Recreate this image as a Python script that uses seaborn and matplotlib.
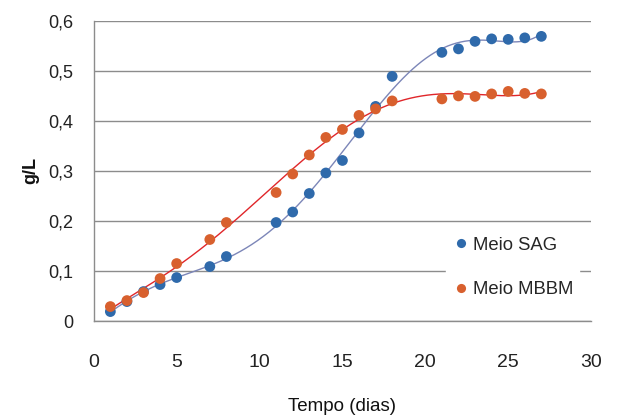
import numpy as np
import pandas as pd
import matplotlib
matplotlib.use("Agg")
import matplotlib.pyplot as plt
import seaborn as sns
from matplotlib import font_manager

dias_sag = [1, 2, 3, 4, 5, 7, 8, 11, 12, 13, 14, 15, 16, 17, 18, 21, 22, 23, 24, 25, 26, 27]
sag = [0.019, 0.039, 0.059, 0.073, 0.087, 0.109, 0.129, 0.197, 0.218, 0.255, 0.296, 0.321,
       0.376, 0.429, 0.489, 0.537, 0.544, 0.559, 0.564, 0.563, 0.566, 0.569]
dias_mbbm = [1, 2, 3, 4, 5, 7, 8, 11, 12, 13, 14, 15, 16, 17, 18, 21, 22, 23, 24, 25, 26, 27]
mbbm = [0.029, 0.041, 0.057, 0.085, 0.115, 0.163, 0.197, 0.257, 0.294, 0.332, 0.367, 0.383,
        0.411, 0.424, 0.440, 0.444, 0.450, 0.449, 0.454, 0.459, 0.455, 0.454]
series_names = ["Meio SAG", "Meio MBBM"]
x_ticks = [0, 5, 10, 15, 20, 25, 30]
y_ticks = [0, 0.1, 0.2, 0.3, 0.4, 0.5, 0.6]

sns.set_theme(style="white")
names = {f.name for f in font_manager.fontManager.ttflist}
narrow = "Liberation Sans Narrow" if "Liberation Sans Narrow" in names else "Liberation Sans"
plt.rcParams['font.family'] = [narrow, 'DejaVu Sans']

df = pd.DataFrame({
    "dia": dias_sag + dias_mbbm,
    "valor": sag + mbbm,
    "serie": [series_names[0]] * len(sag) + [series_names[1]] * len(mbbm),
})

# polynomial trend lines fitted to the data
fits = []
for name, xs, ys in [(series_names[0], dias_sag, sag), (series_names[1], dias_mbbm, mbbm)]:
    coef = np.polyfit(xs, ys, 6)
    xx = np.linspace(min(xs), max(xs), 300)
    fits.append(pd.DataFrame({"dia": xx, "valor": np.polyval(coef, xx), "serie": name}))
fit_df = pd.concat(fits)

fig = plt.figure(figsize=(6.17, 4.17), dpi=100)
ax = fig.add_axes([0.152, 0.230, 0.806, 0.720])

ax.set_axisbelow(True)
ax.grid(axis="y", color="#8c8c8c", linewidth=1.0)

sns.lineplot(data=fit_df, x="dia", y="valor", hue="serie",
             palette={series_names[0]: "#7c86b8", series_names[1]: "#e0262a"},
             linewidth=1.0, legend=False, ax=ax, zorder=2)
sns.scatterplot(data=df, x="dia", y="valor", hue="serie",
                palette={series_names[0]: "#2f6aab", series_names[1]: "#d8602e"},
                s=60, edgecolor="none", ax=ax, zorder=3)

ax.set_xlim(0, 30)
ax.set_ylim(0, 0.6)
ax.set_xticks(x_ticks)
ax.set_yticks(y_ticks)
ax.set_xticklabels([str(t) for t in x_ticks], fontsize=14)
ax.set_yticklabels([("%g" % t).replace(".", ",") for t in y_ticks], fontsize=13)
ax.tick_params(axis="both", length=0, colors="#222222")
ax.tick_params(axis="y", pad=15)
ax.tick_params(axis="x", pad=24)

for side in ["top", "right"]:
    ax.spines[side].set_visible(False)
for side in ["left", "bottom"]:
    ax.spines[side].set_color("#8c8c8c")
    ax.spines[side].set_linewidth(1.0)

ax.set_xlabel("Tempo (dias)", fontsize=13.5, labelpad=19, color="#111111")
ax.set_ylabel("g/L", fontsize=13, fontweight="bold", labelpad=6, color="#111111")

leg = ax.legend(loc="upper left", bbox_to_anchor=(0.69, 0.33), frameon=True,
                fontsize=13.3, handletextpad=0.15, labelspacing=1.5, markerscale=0.85,
                borderpad=0.3, handlelength=1.0)
leg.get_frame().set_facecolor("white")
leg.get_frame().set_edgecolor("white")
leg.get_frame().set_alpha(1.0)
leg.get_frame().set_boxstyle("square", pad=0.0)

fig.savefig("out.png", dpi=100)
